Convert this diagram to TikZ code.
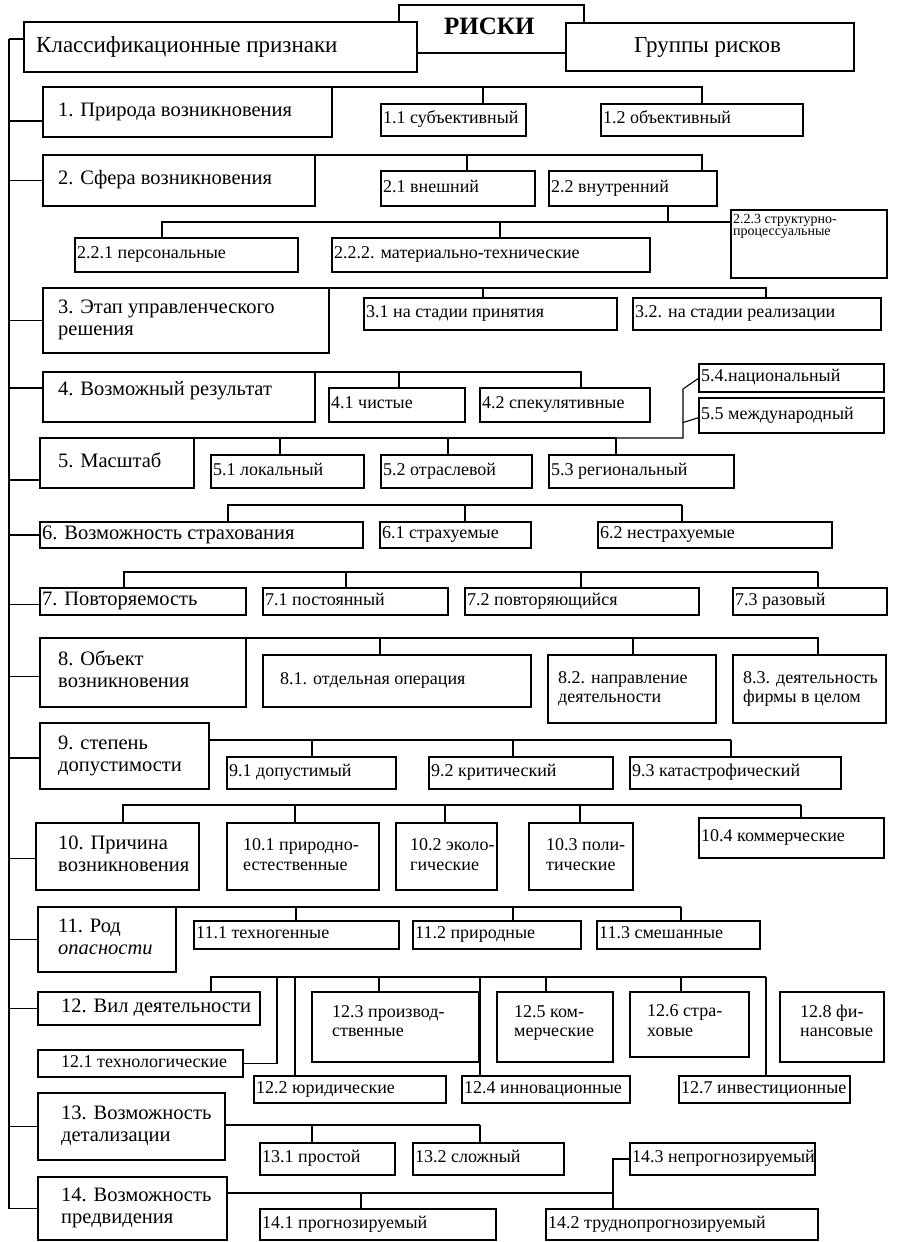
\documentclass[tikz,border=0pt]{standalone}
\usepackage{fontspec}
\setmainfont{Liberation Serif}
\usetikzlibrary{calc}
\newcommand\fm{\fontsize{20.5}{22}\selectfont}
\newcommand\fs{\fontsize{18}{19.5}\selectfont}
\newcommand\ftn{\fontsize{14}{12.5}\selectfont}
\newcommand\fh{\fontsize{23}{25}\selectfont}
\newcommand\bx[8][]{%
  \pgfmathsetmacro\bw{#5-#3}\pgfmathsetmacro\bh{#6-#4}%
  \node[box,minimum width=\bw pt,minimum height=\bh pt,anchor=north west] (#2) at (#3pt,-#4pt) {};%
  \node[txt,anchor=west,#1] (#2t) at ([xshift=#7pt]#2.west) {\strut #8\strut};}
\begin{document}
\begin{tikzpicture}[x=1pt,y=1pt,
  box/.style={draw,line width=1.2pt,fill=white,inner sep=0pt,outer sep=0pt},
  txt/.style={inner sep=0pt,align=left,font=\fs},
  ln/.style={line width=1.1pt}]
\useasboundingbox (0,0) rectangle (903,-1242);
% header
\bx[font={\bfseries\fontsize{25}{26}\selectfont}]{risk}{399}{5}{584}{53}{45}{РИСКИ}
\bx[font=\fh]{cls}{24}{22}{417}{72}{12}{Классификационные признаки}
\bx[font=\fh]{grp}{566}{23}{854}{71}{68}{Группы рисков}
% row 1
\bx[font=\fm]{n1}{43}{87}{332}{137}{15}{1. Природа возникновения}
\bx{n11}{381}{104}{526}{136}{2}{1.1 субъективный}
\bx{n12}{601}{104}{803}{136}{2}{1.2 объективный}
% row 2
\bx[font=\fm]{n2}{43}{155}{315}{206}{15}{2. Сфера возникновения}
\bx{n21}{381}{171}{535}{206}{2}{2.1 внешний}
\bx{n22}{549}{171}{717}{206}{2}{2.2 внутренний}
\bx{n221}{75}{238}{298}{272}{2}{2.2.1 персональные}
\bx{n222}{332}{238}{650}{272}{2}{2.2.2. материально-технические}
\bx[font=\ftn,anchor=north west,yshift=30pt]{n223}{731}{210}{887}{278}{2}{2.2.3 структурно-\\процессуальные}
% row 3
\bx[font=\fm]{n3}{43}{288}{329}{353}{15}{3. Этап управленческого\\решения}
\bx{n31}{364}{298}{617}{330}{2}{3.1 на стадии принятия}
\bx{n32}{633}{298}{881}{330}{2}{3.2. на стадии реализации}
% row 4
\bx[font=\fm,yshift=6pt]{n4}{43}{372}{315}{422}{15}{4. Возможный результат}
\bx{n41}{329}{388}{465}{422}{2}{4.1 чистые}
\bx{n42}{480}{388}{650}{422}{2}{4.2 спекулятивные}
\bx{n54}{699}{364}{884}{392}{2}{5.4.национальный}
\bx{n55}{699}{398}{884}{433}{2}{5.5 международный}
% row 5
\bx[font=\fm]{n5}{40}{438}{194}{488}{18}{5. Масштаб}
\bx{n51}{211}{455}{364}{488}{2}{5.1 локальный}
\bx{n52}{381}{455}{532}{488}{2}{5.2 отраслевой}
\bx{n53}{549}{455}{734}{488}{2}{5.3 региональный}
% row 6
\bx[font=\fm]{n6}{40}{522}{363}{548}{2}{6. Возможность страхования}
\bx{n61}{380}{522}{531}{548}{2}{6.1 страхуемые}
\bx{n62}{598}{522}{832}{548}{2}{6.2 нестрахуемые}
% row 7
\bx[font=\fm]{n7}{40}{588}{246}{615}{2}{7. Повторяемость}
\bx{n71}{263}{588}{448}{615}{2}{7.1 постоянный}
\bx{n72}{465}{588}{699}{615}{2}{7.2 повторяющийся}
\bx{n73}{733}{588}{887}{615}{2}{7.3 разовый}
% row 8
\bx[font=\fm]{n8}{40}{638}{246}{707}{18}{8. Объект\\возникновения}
\bx{n81}{263}{655}{531}{707}{17}{8.1. отдельная операция}
\bx{n82}{548}{655}{716}{723}{10}{8.2. направление\\деятельности}
\bx{n83}{733}{655}{886}{723}{10}{8.3. деятельность\\фирмы в целом}
% row 9
\bx[font=\fm]{n9}{40}{723}{209}{789}{18}{9. степень\\допустимости}
\bx{n91}{227}{757}{396}{789}{2}{9.1 допустимый}
\bx{n92}{429}{757}{613}{789}{2}{9.2 критический}
\bx{n93}{630}{757}{841}{789}{2}{9.3 катастрофический}
% row 10
\bx[font=\fm]{n10}{36}{823}{199}{890}{22}{10. Причина\\возникновения}
\bx{n101}{227}{823}{379}{890}{16}{10.1 природно-\\естественные}
\bx{n102}{396}{823}{497}{890}{14}{10.2 эколо-\\гические}
\bx{n103}{529}{823}{633}{890}{17}{10.3 поли-\\тические}
\bx{n104}{699}{818}{884}{858}{2}{10.4 коммерческие}
% row 11
\bx[font=\fm]{q11}{38}{907}{176}{972}{20}{11. Род\\\textit{опасности}}
\bx{q111}{194}{921}{399}{949}{2}{11.1 техногенные}
\bx{q112}{413}{921}{581}{949}{2}{11.2 природные}
\bx{q113}{597}{921}{760}{949}{2}{11.3 смешанные}
% row 12
\bx[font=\fm]{q12}{38}{992}{260}{1025}{23}{12. Вил деятельности}
\bx[yshift=4pt]{q123}{312}{992}{479}{1062}{20}{12.3 производ-\\ственные}
\bx[yshift=4pt]{q125}{497}{992}{613}{1062}{17}{12.5 ком-\\мерческие}
\bx[yshift=2pt]{q126}{630}{992}{749}{1057}{17}{12.6 стра-\\ховые}
\bx[yshift=4pt]{q128}{780}{992}{884}{1062}{20}{12.8 фи-\\нансовые}
\bx{q121}{38}{1050}{243}{1077}{23}{12.1 технологические}
\bx{q122}{254}{1076}{446}{1103}{2}{12.2 юридические}
\bx{q124}{462}{1076}{630}{1103}{2}{12.4 инновационные}
\bx{q127}{679}{1076}{850}{1103}{2}{12.7 инвестиционные}
% row 13
\bx[font=\fm]{q13}{38}{1093}{225}{1160}{23}{13. Возможность\\детализации}
\bx{q131}{260}{1143}{395}{1175}{2}{13.1 простой}
\bx{q132}{413}{1143}{564}{1175}{2}{13.2 сложный}
\bx{q143}{630}{1143}{815}{1175}{2}{14.3 непрогнозируемый}
% row 14
\bx[font=\fm]{q14}{38}{1177}{227}{1240}{23}{14. Возможность\\предвидения}
\bx{q141}{260}{1209}{496}{1240}{2}{14.1 прогнозируемый}
\bx{q142}{546}{1209}{818}{1240}{2}{14.2 труднопрогнозируемый}
% connectors
\begin{scope}[ln]
\coordinate (tr) at (9,0);
\coordinate (c0) at ([yshift=8pt]cls.west);
\coordinate (c1) at ([yshift=-9pt]n1.west);
\coordinate (c2) at (n2.west);
\coordinate (c3) at (n3.west);
\coordinate (c4) at ([yshift=9pt]n4.west);
\coordinate (c5) at ([yshift=-17pt]n5.west);
\coordinate (c6) at (n6.west);
\coordinate (c7) at ([yshift=-3pt]n7.west);
\coordinate (c8) at ([yshift=-4pt]n8.west);
\coordinate (c9) at ([yshift=-2pt]n9.west);
\coordinate (c10) at ([yshift=-2pt]n10.west);
\coordinate (c11) at (q11.west);
\coordinate (c12) at (q12.west);
\coordinate (c13) at (q13.west);
\coordinate (c14) at (q14.west);
\draw (c0 -| tr) -- (c14 -| tr);
\foreach \i in {0,...,14} \draw (c\i) -- (c\i -| tr);
% row 1
\draw ([xshift=102pt]n11.north west) |- (n1.north east);
\draw ([xshift=101pt]n12.north west) |- (n1.north east);
% row 2
\draw ([xshift=86pt]n21.north west) |- (n2.north east);
\draw ([xshift=153pt]n22.north west) |- (n2.north east);
\coordinate (j223) at ([yshift=-12pt]n223.north west);
\draw ([xshift=119pt]n22.south west) |- (j223);
\draw ([xshift=87pt]n221.north west) |- (j223);
\draw ([xshift=168pt]n222.north west) |- (j223);
% row 3
\draw ([xshift=119pt]n31.north west) |- (n3.north east);
\draw ([xshift=133pt]n32.north west) |- (n3.north east);
% row 4
\draw ([xshift=70pt]n41.north west) |- (n4.north east);
\draw ([xshift=101pt]n42.north west) |- (n4.north east);
% row 5
\coordinate (k5) at ([xshift=-16pt,yshift=-11pt]n54.west);
\draw (n54.west) -- (k5) -- (k5 |- n5.north) -- (n5.north east);
\draw ([yshift=-2pt]n55.west) -- ([xshift=-16pt,yshift=-7pt]n55.west);
\draw ([xshift=69pt]n51.north west) |- (n5.north east);
\draw ([xshift=67pt]n52.north west) |- (n5.north east);
\draw ([xshift=67pt]n53.north west) |- (n5.north east);
% row 6
\coordinate (b6) at ([xshift=84pt,yshift=17pt]n62.north west);
\draw ([xshift=188pt]n6.north west) |- (b6);
\draw ([xshift=85pt]n61.north west) |- (b6);
\draw ([xshift=84pt]n62.north west) -- (b6);
% row 7
\coordinate (b7) at ([xshift=85pt,yshift=16pt]n73.north west);
\draw ([xshift=84pt]n7.north west) |- (b7);
\draw ([xshift=83pt]n71.north west) |- (b7);
\draw ([xshift=116pt]n72.north west) |- (b7);
\draw ([xshift=85pt]n73.north west) -- (b7);
% row 8
\draw ([xshift=117pt]n81.north west) |- (n8.north east);
\draw ([xshift=85pt]n82.north west) |- (n8.north east);
\draw ([xshift=85pt]n83.north west) |- (n8.north east);
% row 9
\coordinate (b9) at ([xshift=101pt,yshift=17pt]n93.north west);
\draw ([yshift=-17pt]n9.north east) -- (b9);
\draw ([xshift=85pt]n91.north west) |- (b9);
\draw ([xshift=84pt]n92.north west) |- (b9);
\draw ([xshift=101pt]n93.north west) -- (b9);
% row 10
\coordinate (b10) at ([xshift=102pt,yshift=13pt]n104.north west);
\draw ([xshift=87pt]n10.north west) |- (b10);
\draw ([xshift=68pt]n101.north west) |- (b10);
\draw ([xshift=49pt]n102.north west) |- (b10);
\draw ([xshift=51pt]n103.north west) |- (b10);
\draw ([xshift=102pt]n104.north west) -- (b10);
% row 11
\coordinate (b11) at ([xshift=84pt,yshift=14pt]q113.north west);
\draw (q11.north east) -- (b11);
\draw ([xshift=102pt]q111.north west) |- (b11);
\draw ([xshift=100pt]q112.north west) |- (b11);
\draw ([xshift=84pt]q113.north west) -- (b11);
% row 12
\coordinate (b12) at ([xshift=87pt,yshift=99pt]q127.north west);
\draw ([xshift=173pt]q12.north west) |- (b12);
\draw ([xshift=67pt]q123.north west) |- (b12);
\draw ([xshift=49pt]q125.north west) |- (b12);
\draw ([xshift=51pt]q126.north west) |- (b12);
\draw ([xshift=41pt]q122.north west) |- (b12);
\draw ([xshift=18pt]q124.north west) |- (b12);
\draw ([xshift=87pt]q127.north west) -- (b12);
\coordinate (k121) at ([xshift=34pt]q121.east);
\draw (q121.east) -- (k121) |- (b12);
% row 13
\coordinate (b13) at ([xshift=67pt,yshift=18pt]q132.north west);
\draw (q13.east |- b13) -- (b13);
\draw ([xshift=52pt]q131.north west) |- (b13);
\draw ([xshift=67pt]q132.north west) -- (b13);
% row 14
\coordinate (b14) at ([xshift=67pt,yshift=16pt]q142.north west);
\draw ([yshift=-16pt]q14.north east) -- (b14);
\draw ([xshift=101pt]q141.north west) |- (b14);
\draw (q143.west) -| ([xshift=67pt]q142.north west);
\end{scope}
\end{tikzpicture}
\end{document}
